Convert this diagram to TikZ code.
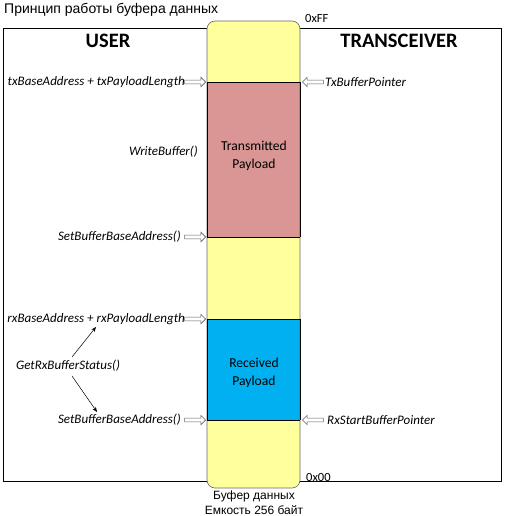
\documentclass[tikz,border=0pt]{standalone}
\usepackage{fontspec}
\setmainfont{Carlito}
\newfontfamily\arialf{Liberation Sans}
\usetikzlibrary{shapes.arrows,arrows.meta}
\definecolor{bufyellow}{HTML}{FFFF9C}
\definecolor{bufred}{HTML}{D99694}
\definecolor{bufblue}{HTML}{00B0F0}
\tikzset{
  lbl/.style={font=\fontsize{13}{15}\selectfont\itshape, inner sep=0pt},
  head/.style={font=\fontsize{20.5}{22}\selectfont\bfseries, inner sep=0pt},
  hexlbl/.style={font=\fontsize{12.5}{14}\selectfont, inner sep=0pt, anchor=west},
  ttl/.style={font=\arialf\fontsize{14}{16}\selectfont, inner sep=0pt},
  captext/.style={font=\arialf\fontsize{12}{13}\selectfont, inner sep=0pt},
  inbox/.style={font=\fontsize{13.6}{17.5}\selectfont, align=center, inner sep=0pt},
  harrow/.style={single arrow, draw=gray!75!black, fill=white, line width=0.55pt,
    minimum height=21pt, single arrow head extend=2.8pt, single arrow head indent=0pt,
    inner sep=1.6pt},
  thin arrow/.style={-{Stealth[length=5pt,width=4pt]}, line width=0.5pt}
}
\begin{document}
\begin{tikzpicture}[x=1pt,y=-1pt]
\useasboundingbox (0,0) rectangle (504,516);
% outer frame
\draw[line width=0.8pt] (3,28) rectangle (501,481);
% buffer
\coordinate (btl) at (207,21);
\coordinate (bbr) at (300,488);
\coordinate (d1l) at (207,82);  \coordinate (d1r) at (300,82);
\coordinate (d2l) at (207,237); \coordinate (d2r) at (300,237);
\coordinate (d3l) at (207,319); \coordinate (d3r) at (300,319);
\coordinate (d4l) at (207,420); \coordinate (d4r) at (300,420);
\fill[bufyellow, rounded corners=8pt] (btl) rectangle (bbr);
\fill[bufred] (d1l) rectangle (d2r);
\fill[bufblue] (d3l) rectangle (d4r);
\draw[gray!80!black, line width=0.6pt, rounded corners=8pt] (btl) rectangle (bbr);
\draw[line width=0.7pt] (d1l) -- (d1r);
\draw[line width=0.7pt] (d2l) -- (d2r);
\draw[line width=0.7pt] (d3l) -- (d3r);
\draw[line width=0.7pt] (d4l) -- (d4r);
\draw[line width=0.7pt] (d1l) -- (d2l) (d1r) -- (d2r) (d3l) -- (d4l) (d3r) -- (d4r);
% texts in buffer
\node[inbox] (tp) at (254,156) {Transmitted\\Payload};
\node[inbox] (rp) at (254,373) {Received\\Payload};
% title and headers
\node[ttl, anchor=west] (title) at (4,10) {Принцип работы буфера данных};
\node[head] (user) at (108,41) {USER};
\node[head] (trx) at (399,41) {TRANSCEIVER};
\node[hexlbl] (hff) at (305,18) {0xFF};
\node[hexlbl] (h00) at (306,477) {0x00};
% left labels
\node[lbl, anchor=east] (l1) at (185,82) {txBaseAddress + txPayloadLength};
\node[lbl, anchor=east] (l2) at (198,152) {WriteBuffer()};
\node[lbl, anchor=east] (l3) at (181,237) {SetBufferBaseAddress()};
\node[lbl, anchor=east] (l4) at (185,319) {rxBaseAddress + rxPayloadLength};
\node[lbl] (l5) at (68,366) {GetRxBufferStatus()};
\node[lbl, anchor=east] (l6) at (181,420) {SetBufferBaseAddress()};
% right labels
\node[lbl, anchor=west] (r1) at (325,82) {TxBufferPointer};
\node[lbl, anchor=west] (r2) at (327,420) {RxStartBufferPointer};
% hollow arrows
\node[harrow, anchor=tip] (a1) at (206,82) {};
\node[harrow, anchor=tip] (a2) at (206,237) {};
\node[harrow, anchor=tip] (a3) at (206,319) {};
\node[harrow, anchor=tip] (a4) at (206,420) {};
\node[harrow, anchor=tip, shape border rotate=180] (a5) at (302,82) {};
\node[harrow, anchor=tip, shape border rotate=180] (a6) at (302,420) {};
% thin arrows
\coordinate (g1) at (96,327);
\coordinate (g2) at (97,412);
\draw[thin arrow] (72,357) -- (g1);
\draw[thin arrow] (72,376) -- (g2);
% caption
\node[captext] (c1) at (254,496) {Буфер данных};
\node[captext] (c2) at (254,510) {Емкость 256 байт};
\end{tikzpicture}
\end{document}
